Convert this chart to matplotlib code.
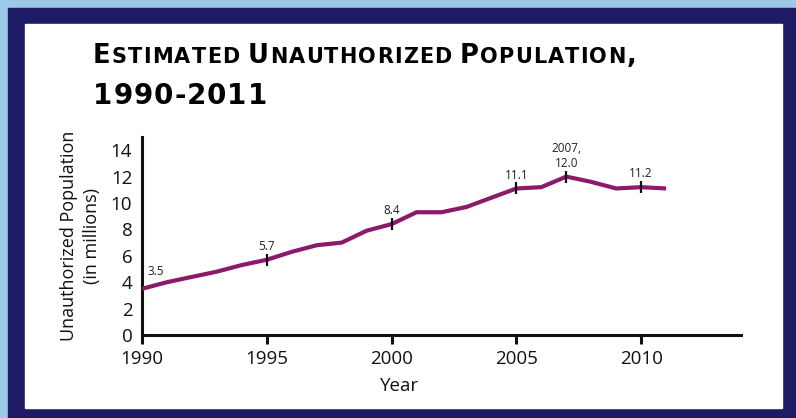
import matplotlib
matplotlib.use("Agg")
import matplotlib.pyplot as plt
from matplotlib.patches import Rectangle

# Estimated unauthorized immigrant population, in millions
years = [1990, 1991, 1992, 1993, 1994, 1995, 1996, 1997, 1998, 1999, 2000,
         2001, 2002, 2003, 2004, 2005, 2006, 2007, 2008, 2009, 2010, 2011]
population = [3.5, 4.0, 4.4, 4.8, 5.3, 5.7, 6.3, 6.8, 7.0, 7.9, 8.4,
              9.3, 9.3, 9.7, 10.4, 11.1, 11.2, 12.0, 11.6, 11.1, 11.2, 11.1]

# Highlighted points: (year, label text)
callout_years = [1990, 1995, 2000, 2005, 2007, 2010]
callout_texts = ["3.5", "5.7", "8.4", "11.1", "2007,\n12.0", "11.2"]

x_ticks = [1990, 1995, 2000, 2005, 2010]
y_ticks = [0, 2, 4, 6, 8, 10, 12, 14]

title_parts = [("E", "big"), ("STIMATED ", "small"), ("U", "big"),
               ("NAUTHORIZED ", "small"), ("P", "big"), ("OPULATION", "small"),
               (",", "big")]
title_line2 = "1990-2011"

LINE = "#8B1A6A"
NAVY = "#1D1A66"
SKY = "#9DC8E6"
FONT = "Open Sans"
TITLE_FONT = "DejaVu Sans"

W, H = 796, 418
fig = plt.figure(figsize=(W / 100, H / 100), dpi=100, facecolor=SKY)


def fx(px):
    return px / W


def fy(py):
    return 1 - py / H


# Navy frame and white panel
fig.patches.append(Rectangle((fx(8), 0), fx(W - 8), 1 - 8 / H,
                             transform=fig.transFigure, color=NAVY, zorder=-2))
fig.patches.append(Rectangle((fx(25), fy(408)), fx(782 - 25), (408 - 24) / H,
                             transform=fig.transFigure, color="white", zorder=-1))

ax = fig.add_axes([fx(142), fy(335), fx(741 - 142), (335 - 137) / H])
ax.set_facecolor("none")

ax.plot(years, population, color=LINE, lw=3.0, solid_joinstyle="round",
        solid_capstyle="butt", zorder=3)

lookup = dict(zip(years, population))
for yr, txt in zip(callout_years, callout_texts):
    val = lookup[yr]
    if yr == callout_years[0]:
        ax.annotate(txt, (yr, val), xytext=(4, 8), textcoords="offset points",
                    ha="left", va="bottom", fontsize=8.5, family=FONT,
                    color="#222222")
        continue
    ax.plot([yr], [val], marker="|", ms=9, mew=1.6, color="#111111", zorder=4)
    ax.annotate(txt, (yr, val), xytext=(0, 5), textcoords="offset points",
                ha="center", va="bottom", fontsize=8.5, family=FONT,
                color="#222222", linespacing=1.15)

ax.set_xlim(1990, 2014)
ax.set_ylim(0, 15)
ax.set_xticks(x_ticks)
ax.set_yticks(y_ticks)
for sp in ["top", "right"]:
    ax.spines[sp].set_visible(False)
for sp in ["left", "bottom"]:
    ax.spines[sp].set_linewidth(2.2)
    ax.spines[sp].set_color("#111111")
ax.tick_params(axis="x", direction="out", length=6.5, width=2.2,
               color="#111111", pad=4, labelsize=13.5)
ax.tick_params(axis="y", length=0, pad=7, labelsize=13.5)
for lab in ax.get_xticklabels() + ax.get_yticklabels():
    lab.set_family(FONT)
    lab.set_color("#111111")

ax.set_xlabel("Year", family=FONT, fontsize=13.5, color="#111111")
ax.xaxis.set_label_coords((400 - 142) / (741 - 142), -0.21)
ax.set_ylabel("Unauthorized Population\n(in millions)", family=FONT,
              fontsize=13, color="#111111", linespacing=1.4)
ax.yaxis.set_label_coords(-0.068, 0.5)

# Title: bold letters laid out one by one along a baseline, with tracking
renderer = fig.canvas.get_renderer()


def spaced_text(chunks, x_px, base_px, track):
    for text, size in chunks:
        for ch in text:
            if ch == " ":
                x_px += size * 0.45
                continue
            t = fig.text(fx(x_px), fy(base_px), ch, fontsize=size,
                         family=TITLE_FONT, weight="bold", color="black",
                         va="baseline", ha="left")
            x_px += t.get_window_extent(renderer=renderer).width + track
    return x_px


sizes = {"big": 18.5, "small": 15}
spaced_text([(txt, sizes[k]) for txt, k in title_parts], 93, 63, 1.2)
spaced_text([(title_line2, 20)], 93, 104, 1.0)

fig.savefig("out.png", dpi=100, facecolor=SKY)
